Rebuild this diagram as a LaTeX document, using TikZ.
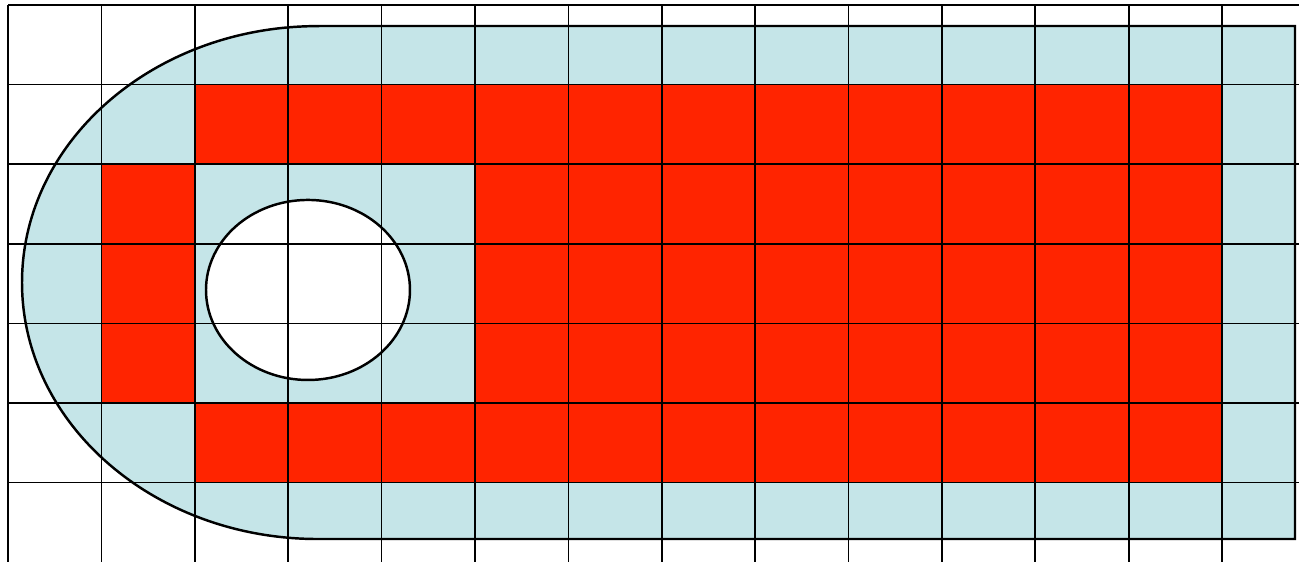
\documentclass[tikz,border=0pt]{standalone}
\usepackage{tikz}
\definecolor{paleblue}{RGB}{197,229,232}
\definecolor{hotred}{RGB}{255,36,0}

\begin{document}
\begin{tikzpicture}[x=1.868cm,y=-1.592cm,gridline/.style={black,line width=1pt},outline/.style={black,line width=1.4pt},redcell/.style={fill=hotred}]
	\useasboundingbox (-0.0857,-0.0628) rectangle (13.823,7.0);
	\coordinate (hole) at (3.212,3.580);
	\filldraw[outline,fill=paleblue] (3.319,0.264) -- (13.78,0.264) -- (13.78,6.709) -- (3.319,6.709) arc[start angle=90,end angle=270,x radius=3.169,y radius=3.222] -- cycle;
	\fill[redcell] (2,1) rectangle (13,2);
	\fill[redcell] (1,2) rectangle (2,5);
	\fill[redcell] (5,2) rectangle (13,5);
	\fill[redcell] (2,5) rectangle (13,6);
	\filldraw[outline,fill=white] (hole) ellipse[x radius=1.092,y radius=1.131];
	\foreach \i in {0,...,13}
		\draw[gridline] (\i,0) -- (\i,7);
	\foreach \j in {0,...,6}
		\draw[gridline] (0,\j) -- (13.823,\j);
\end{tikzpicture}
\end{document}
